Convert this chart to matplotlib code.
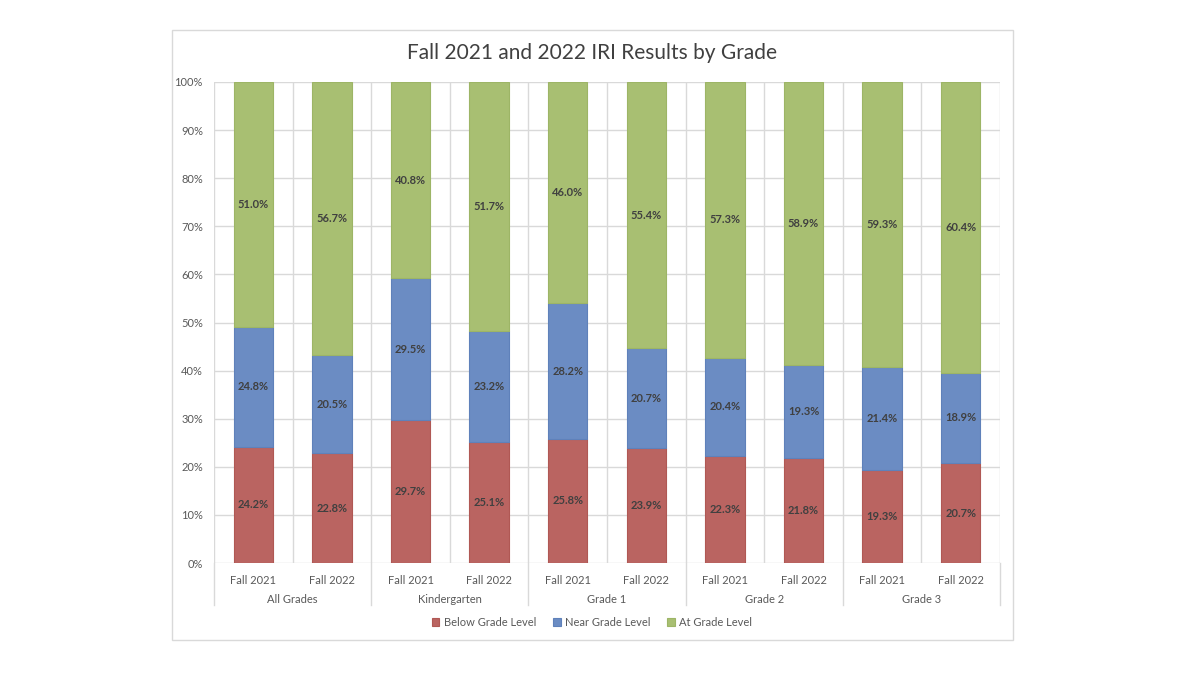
import numpy as np
import matplotlib.pyplot as plt
from matplotlib.patches import Rectangle
from matplotlib.lines import Line2D

plt.rcParams['font.family'] = ['Lato', 'DejaVu Sans']

groups = ['All Grades', 'Kindergarten', 'Grade 1', 'Grade 2', 'Grade 3']
terms = ['Fall 2021', 'Fall 2022']
below = [24.2, 22.8, 29.7, 25.1, 25.8, 23.9, 22.3, 21.8, 19.3, 20.7]
near = [24.8, 20.5, 29.5, 23.2, 28.2, 20.7, 20.4, 19.3, 21.4, 18.9]
at = [51.0, 56.7, 40.8, 51.7, 46.0, 55.4, 57.3, 58.9, 59.3, 60.4]
series = ['Below Grade Level', 'Near Grade Level', 'At Grade Level']
colors = ['#BA6461', '#6B8CC3', '#A8BF72']
edges = ['#B05854', '#5F81BA', '#9DB566']

fig = plt.figure(figsize=(12, 6.75), dpi=100)
fig.patch.set_facecolor('white')
# chart panel border
fig.patches.append(Rectangle((172 / 1200, 1 - 640 / 675), 841 / 1200, 610 / 675,
                             transform=fig.transFigure, fill=False,
                             edgecolor='#D9D9D9', lw=1))

ax = fig.add_axes([214 / 1200, 1 - 563 / 675, 786 / 1200, 481 / 675])
x = np.arange(len(below))
bottom = np.zeros(len(below))
for vals, c, ec, name in zip([below, near, at], colors, edges, series):
    vals = np.array(vals)
    ax.bar(x, vals, 0.5, bottom=bottom, color=c, edgecolor=ec, lw=0.8,
           label=name, zorder=3)
    for xi, b, v in zip(x, bottom, vals):
        ax.text(xi, b + v / 2, f'{v:.1f}%', ha='center', va='center',
                fontsize=8, fontweight='bold', color='#404040', zorder=4)
    bottom += vals

ax.set_xlim(-0.5, len(below) - 0.5)
ax.set_ylim(0, 100)
ax.set_yticks(np.arange(0, 101, 10))
ax.set_yticklabels([f'{v}%' for v in range(0, 101, 10)])
ax.set_xticks(x)
ax.set_xticklabels(terms * len(groups))
ax.tick_params(axis='both', length=0, labelsize=8, colors='#595959')
ax.tick_params(axis='x', pad=9)
ax.tick_params(axis='y', pad=8)
for v in range(0, 101, 10):
    ax.axhline(v, color='#D9D9D9', lw=1, zorder=1)
for xv in np.arange(-0.5, len(below), 1):
    ax.axvline(xv, color='#D9D9D9', lw=1, zorder=1)
for s in ax.spines.values():
    s.set_visible(False)

# group labels and separators below the axis
for i, g in enumerate(groups):
    ax.text(2 * i + 0.5, -7.6, g, ha='center', va='center', fontsize=8,
            color='#595959', transform=ax.transData, clip_on=False)
for b in np.arange(-0.5, len(below), 2):
    ax.add_line(Line2D([b, b], [0, -8.7], color='#D9D9D9', lw=1, clip_on=False))

fig.text(592 / 1200, 1 - 53 / 675, 'Fall 2021 and 2022 IRI Results by Grade',
         ha='center', va='center', fontsize=15, color='#404040')

fig.legend(loc='center', bbox_to_anchor=(592 / 1200, 1 - 622 / 675), ncol=3,
           frameon=False, fontsize=8, handlelength=0.7, handleheight=0.7,
           handletextpad=0.4, columnspacing=1.5, labelcolor='#595959')

fig.savefig('out.png', dpi=100, facecolor='white')
